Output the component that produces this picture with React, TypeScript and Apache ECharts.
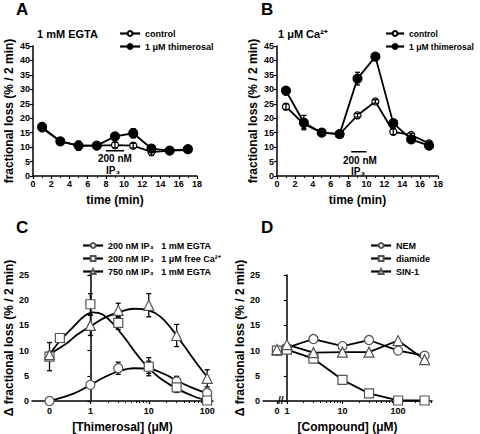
import React, { useEffect, useRef } from "react";
import * as echarts from "echarts";

const FONT = "'Liberation Sans', Arial, sans-serif";

// Panel A / B (time course)
const timeMin = [1, 3, 5, 7, 9, 11, 13, 15, 17];
const aControl = [16.5, 12, 10.5, 10.5, 10.7, 10.5, 8.3, 8.8, 9.0];
const aControlErr = [0.8, 0.5, 0.8, 0.5, 1.0, 0.8, 1.2, 0.5, 0.5];
const aThim = [17, 12, 10.5, 10.5, 13.7, 14.8, 9.5, 8.8, 9.3];
const aThimErr = [0.8, 0.8, 1.6, 0.5, 0.8, 1.6, 1.0, 0.6, 0.6];
const bControl = [24, 18, 15, 14.5, 21, 25.8, 15.3, 14.2, 11.3];
const bControlErr = [1.0, 1.5, 0.5, 0.5, 0.6, 0.6, 1.0, 0.6, 0.6];
const bThim = [29.5, 18.5, 15, 14.5, 33.7, 41.3, 18.3, 12.7, 10.5];
const bThimErr = [0.8, 2.5, 0.6, 0.6, 2.2, 0.8, 1.0, 0.6, 0.8];
const ip3TimeA = [8, 10];
const ip3LevelA = 8.7;
const ip3TimeB = [8.3, 10];
const ip3LevelB = 8.4;

// Panel C (thimerosal)
const cCircleConc = [0, 1, 3, 10, 30, 100];
const cCircle = [0, 3.2, 6.5, 6.7, 3.9, 1.6];
const cCircleErr = [0.3, 0.4, 1.2, 1.2, 1.0, 0.8];
const cSquareConc = [0, 0.3, 1, 3, 10, 30, 100];
const cSquare = [8.8, 12.5, 19.2, 15.5, 6.8, 2.7, 0.1];
const cSquareErr = [2.8, 0.5, 2.1, 1.3, 1.8, 1.0, 0.3];
const cTriConc = [0, 1, 3, 10, 30, 100];
const cTri = [9.2, 15, 18, 19, 13, 4.5];
const cTriErr = [0.5, 2.0, 1.4, 2.3, 2.2, 1.7];
// fitted curves
const cCircleFitConc = [0, 0.5, 1, 1.8, 3.2, 5.6, 10, 18, 32, 56, 100];
const cCircleFit = [0, 1.4, 3.2, 4.8, 6.0, 6.5, 6.4, 5.4, 3.9, 2.6, 1.5];
const cSquareFitConc = [0, 0.3, 0.5, 0.8, 1.1, 1.6, 2.5, 4, 6.3, 10, 16, 32, 63, 100];
const cSquareFit = [9.2, 11.9, 14.6, 16.9, 17.6, 17.2, 15.2, 12.3, 9.2, 6.5, 4.4, 2.3, 0.8, 0.1];
const cTriFitConc = [0, 0.4, 0.6, 1, 1.8, 3.2, 5.6, 10, 16, 25, 40, 63, 100];
const cTriFit = [9.3, 11.5, 13.2, 14.8, 16.6, 17.7, 18.3, 18.0, 16.7, 14.2, 11.0, 7.8, 4.8];

// Panel D (compounds)
const dConc = [0, 1, 3, 10, 30, 100, 300];
const dNEM = [10.0, 10.6, 12.3, 10.9, 12.1, 10.0, 9.0];
const dDiamide = [10.0, 10.2, 8.4, 4.2, 1.5, 0.1, 0.1];
const dSIN1 = [10.2, 11.2, 9.6, 9.7, 9.7, 12.0, 8.2];

const xTickLabels = ["0", "1", "10", "100"];
const C_ZERO = -0.7;
const D_ZERO = -0.18;

const lx = (zero: number) => (c: number) => (c === 0 ? zero : Math.log10(c));

function pairs(xs: number[], ys: number[], f = (v: number) => v) {
  return xs.map((x, i) => [f(x), ys[i]]);
}
function errs(xs: number[], ys: number[], es: number[], f = (v: number) => v) {
  return xs.map((x, i) => [f(x), ys[i] - es[i], ys[i] + es[i]]);
}

const minorLog = (lo: number, hi: number) => {
  const out: number[] = [];
  for (let d = Math.floor(lo); d <= hi; d++) {
    for (let k = 2; k <= 9; k++) {
      const v = d + Math.log10(k);
      if (v > lo && v < hi) out.push(v);
    }
  }
  return out;
};

export default function App() {
  const ref = useRef<HTMLDivElement>(null);
  useEffect(() => {
    if (!ref.current) return;
    const chart = echarts.init(ref.current, null, { renderer: "svg" });
    const axisLine = { show: true, lineStyle: { color: "#000", width: 1.5 } };
    const tick = { show: true, inside: false, length: 3, lineStyle: { color: "#000", width: 1.2 } };
    const tickLabel = { color: "#000", fontFamily: FONT, fontWeight: "bold" as const, fontSize: 9, margin: 3 };
    const nameStyle = { color: "#000", fontFamily: FONT, fontWeight: "bold" as const, fontSize: 12 };

    const errRender = (color: string, w: number) => (params: any, api: any) => {
      const x = api.value(0);
      const p1 = api.coord([x, api.value(1)]);
      const p2 = api.coord([x, api.value(2)]);
      const st = { stroke: color, lineWidth: 1.3 };
      return {
        type: "group",
        children: [
          { type: "line", shape: { x1: p1[0], y1: p1[1], x2: p2[0], y2: p2[1] }, style: st },
          { type: "line", shape: { x1: p1[0] - w, y1: p1[1], x2: p1[0] + w, y2: p1[1] }, style: st },
          { type: "line", shape: { x1: p2[0] - w, y1: p2[1], x2: p2[0] + w, y2: p2[1] }, style: st },
        ],
      };
    };
    const errSeries = (data: number[][], xi: number, z: number) => ({
      type: "custom",
      xAxisIndex: xi,
      yAxisIndex: xi,
      renderItem: errRender("#000", 2.5),
      data,
      encode: { x: 0, y: [1, 2] },
      z,
      silent: true,
    });

    const cx = lx(C_ZERO);
    const dx = lx(D_ZERO);
    const gray = "#555";

    const timeX = (gi: number) => ({
      type: "value",
      gridIndex: gi,
      min: 0,
      max: 18,
      interval: 2,
      axisLine,
      axisTick: tick,
      minorTick: { show: true, splitNumber: 2, length: 2, lineStyle: { color: "#000" } },
      splitLine: { show: false },
      axisLabel: tickLabel,
      name: "time (min)",
      nameLocation: "middle",
      nameGap: 18,
      nameTextStyle: nameStyle,
    });
    const fracY = (gi: number, name: string, max: number, gap: number) => ({
      type: "value",
      gridIndex: gi,
      min: 0,
      max,
      interval: 5,
      axisLine,
      axisTick: tick,
      splitLine: { show: false },
      axisLabel: tickLabel,
      name,
      nameLocation: "middle",
      nameGap: gap,
      nameTextStyle: nameStyle,
    });
    const logX = (gi: number, zero: number, min: number, max: number, name: string) => ({
      type: "value",
      gridIndex: gi,
      min,
      max,
      axisLine,
      axisTick: { ...tick, customValues: [zero, 0, 1, 2] },
      splitLine: { show: false },
      axisLabel: {
        ...tickLabel,
        margin: 5,
        customValues: [zero, 0, 1, 2],
        formatter: (v: number) => {
          if (Math.abs(v - zero) < 1e-6) return xTickLabels[0];
          return xTickLabels[Math.round(v) + 1];
        },
      },
      name,
      nameLocation: "middle",
      nameGap: 20,
      nameTextStyle: { ...nameStyle, fontSize: 12 },
    });
    const minorX = (gi: number, min: number, max: number) => ({
      type: "value",
      gridIndex: gi,
      min,
      max,
      position: "bottom",
      axisLine: { show: false },
      axisTick: { show: true, inside: false, length: 2, customValues: minorLog(0, max), lineStyle: { color: "#000" } },
      axisLabel: { show: false },
      splitLine: { show: false },
    });

    const lineS = (name: string, data: number[][], xi: number, symbol: string, fill: string, stroke: string, size: number, z = 3) => ({
      name,
      type: "line",
      xAxisIndex: xi,
      yAxisIndex: xi,
      data,
      symbol,
      symbolSize: size,
      showAllSymbol: true,
      lineStyle: { color: "#000", width: 1.8 },
      itemStyle: { color: fill, borderColor: stroke, borderWidth: 1.2 },
      z,
    });
    const fitS = (data: number[][], xi: number) => ({
      type: "line",
      xAxisIndex: xi,
      yAxisIndex: xi,
      data,
      symbol: "none",
      smooth: 0.4,
      lineStyle: { color: "#000", width: 1.8 },
      z: 2,
      silent: true,
    });

    const legendBase = {
      orient: "vertical",
      itemWidth: 20,
      itemHeight: 6,
      itemGap: 4,
      textStyle: { color: "#000", fontFamily: FONT, fontWeight: "bold", fontSize: 9 },
      padding: 0,
      selectedMode: false,
      lineStyle: { color: "#000", width: 2.2, opacity: 1 },
    };

    const option: any = {
      animation: false,
      backgroundColor: "#fff",
      grid: [
        { left: 33, top: 46, width: 164, height: 130 },
        { left: 277, top: 46, width: 161, height: 130 },
        { left: 32, top: 275, width: 181, height: 127 },
        { left: 263, top: 275, width: 169, height: 127 },
      ],
      xAxis: [
        timeX(0),
        timeX(1),
        logX(2, C_ZERO, -1, 2.1, "[Thimerosal] (μM)"),
        logX(3, D_ZERO, -0.43, 2.61, "[Compound] (μM)"),
        minorX(2, -1, 2.1),
        minorX(3, -0.43, 2.61),
      ],
      yAxis: [
        fracY(0, "fractional loss (% / 2 min)", 45, 18),
        fracY(1, "fractional loss (% / 2 min)", 45, 18),
        fracY(2, "Δ fractional loss (% / 2 min)", 25, 17),
        fracY(3, "Δ fractional loss (% / 2 min)", 25, 17),
      ],
      legend: [
        { ...legendBase, left: 119, top: 29, data: ["control", "1 μM thimerosal"] },
        {
          ...legendBase,
          left: 385,
          top: 29,
          itemWidth: 18,
          textStyle: { ...legendBase.textStyle, fontSize: 8.5 },
          data: ["control ", "1 μM thimerosal "],
        },
        {
          ...legendBase,
          left: 82,
          top: 241,
          data: ["200 nM IP₃   1 mM EGTA", "200 nM IP₃   1 μM free Ca²⁺", "750 nM IP₃   1 mM EGTA"],
        },
        { ...legendBase, left: 370, top: 241, data: ["NEM", "diamide", "SIN-1"] },
      ],
      graphic: [
        { type: "text", left: 16, top: 1, style: { text: "A", font: `bold 17px ${FONT}`, fill: "#000" } },
        { type: "text", left: 261, top: 1, style: { text: "B", font: `bold 17px ${FONT}`, fill: "#000" } },
        { type: "text", left: 16, top: 219, style: { text: "C", font: `bold 17px ${FONT}`, fill: "#000" } },
        { type: "text", left: 261, top: 219, style: { text: "D", font: `bold 17px ${FONT}`, fill: "#000" } },
        { type: "text", left: 37, top: 28, style: { text: "1 mM EGTA", font: `bold 11px ${FONT}`, fill: "#000" } },
        { type: "text", left: 278, top: 28, style: { text: "1 μM Ca²⁺", font: `bold 11px ${FONT}`, fill: "#000" } },
        { type: "text", left: 98, top: 153, style: { text: "200 nM", font: `bold 10px ${FONT}`, fill: "#000" } },
        { type: "text", left: 106, top: 165, style: { text: "IP₃", font: `bold 10px ${FONT}`, fill: "#000" } },
        { type: "text", left: 343, top: 155, style: { text: "200 nM", font: `bold 10px ${FONT}`, fill: "#000" } },
        { type: "text", left: 351, top: 166, style: { text: "IP₃", font: `bold 10px ${FONT}`, fill: "#000" } },
        { type: "text", left: 278, top: 395, style: { text: "//", font: `bold 10px ${FONT}`, fill: "#000" } },
      ],
      series: [
        // A
        lineS("control", pairs(timeMin, aControl), 0, "circle", "#fff", "#000", 7, 3),
        lineS("1 μM thimerosal", pairs(timeMin, aThim), 0, "circle", "#000", "#000", 9, 4),
        errSeries(errs(timeMin, aControl, aControlErr), 0, 6),
        errSeries(errs(timeMin, aThim, aThimErr), 0, 6),
        {
          type: "line", xAxisIndex: 0, yAxisIndex: 0, symbol: "none",
          data: ip3TimeA.map((t) => [t, ip3LevelA]), lineStyle: { color: "#000", width: 1.5 }, silent: true,
        },
        // B
        lineS("control ", pairs(timeMin, bControl), 1, "circle", "#fff", "#000", 7, 3),
        lineS("1 μM thimerosal ", pairs(timeMin, bThim), 1, "circle", "#000", "#000", 9, 4),
        errSeries(errs(timeMin, bControl, bControlErr), 1, 6),
        errSeries(errs(timeMin, bThim, bThimErr), 1, 6),
        {
          type: "line", xAxisIndex: 1, yAxisIndex: 1, symbol: "none",
          data: ip3TimeB.map((t) => [t, ip3LevelB]), lineStyle: { color: "#000", width: 1.5 }, silent: true,
        },
        // C
        fitS(pairs(cCircleFitConc, cCircleFit, cx), 2),
        fitS(pairs(cSquareFitConc, cSquareFit, cx), 2),
        fitS(pairs(cTriFitConc, cTriFit, cx), 2),
        errSeries(errs(cCircleConc, cCircle, cCircleErr, cx), 2, 3),
        errSeries(errs(cSquareConc, cSquare, cSquareErr, cx), 2, 3),
        errSeries(errs(cTriConc, cTri, cTriErr, cx), 2, 3),
        { ...lineS("200 nM IP₃   1 mM EGTA", pairs(cCircleConc, cCircle, cx), 2, "circle", "#fff", gray, 9, 5), lineStyle: { color: "#000", width: 2, opacity: 0 } },
        { ...lineS("200 nM IP₃   1 μM free Ca²⁺", pairs(cSquareConc, cSquare, cx), 2, "rect", "#fff", gray, 9, 5), lineStyle: { color: "#000", width: 2, opacity: 0 } },
        { ...lineS("750 nM IP₃   1 mM EGTA", pairs(cTriConc, cTri, cx), 2, "triangle", "#fff", gray, 10, 5), lineStyle: { color: "#000", width: 2, opacity: 0 } },
        // D
        lineS("NEM", pairs(dConc, dNEM, dx), 3, "circle", "#fff", gray, 9, 4),
        lineS("diamide", pairs(dConc, dDiamide, dx), 3, "rect", "#fff", gray, 9, 4),
        lineS("SIN-1", pairs(dConc, dSIN1, dx), 3, "triangle", "#fff", gray, 10, 4),
      ],
    };
    chart.setOption(option);
    return () => chart.dispose();
  }, []);
  return <div ref={ref} style={{ position: "absolute", left: 0, top: 0, width: 480, height: 434 }} />;
}
